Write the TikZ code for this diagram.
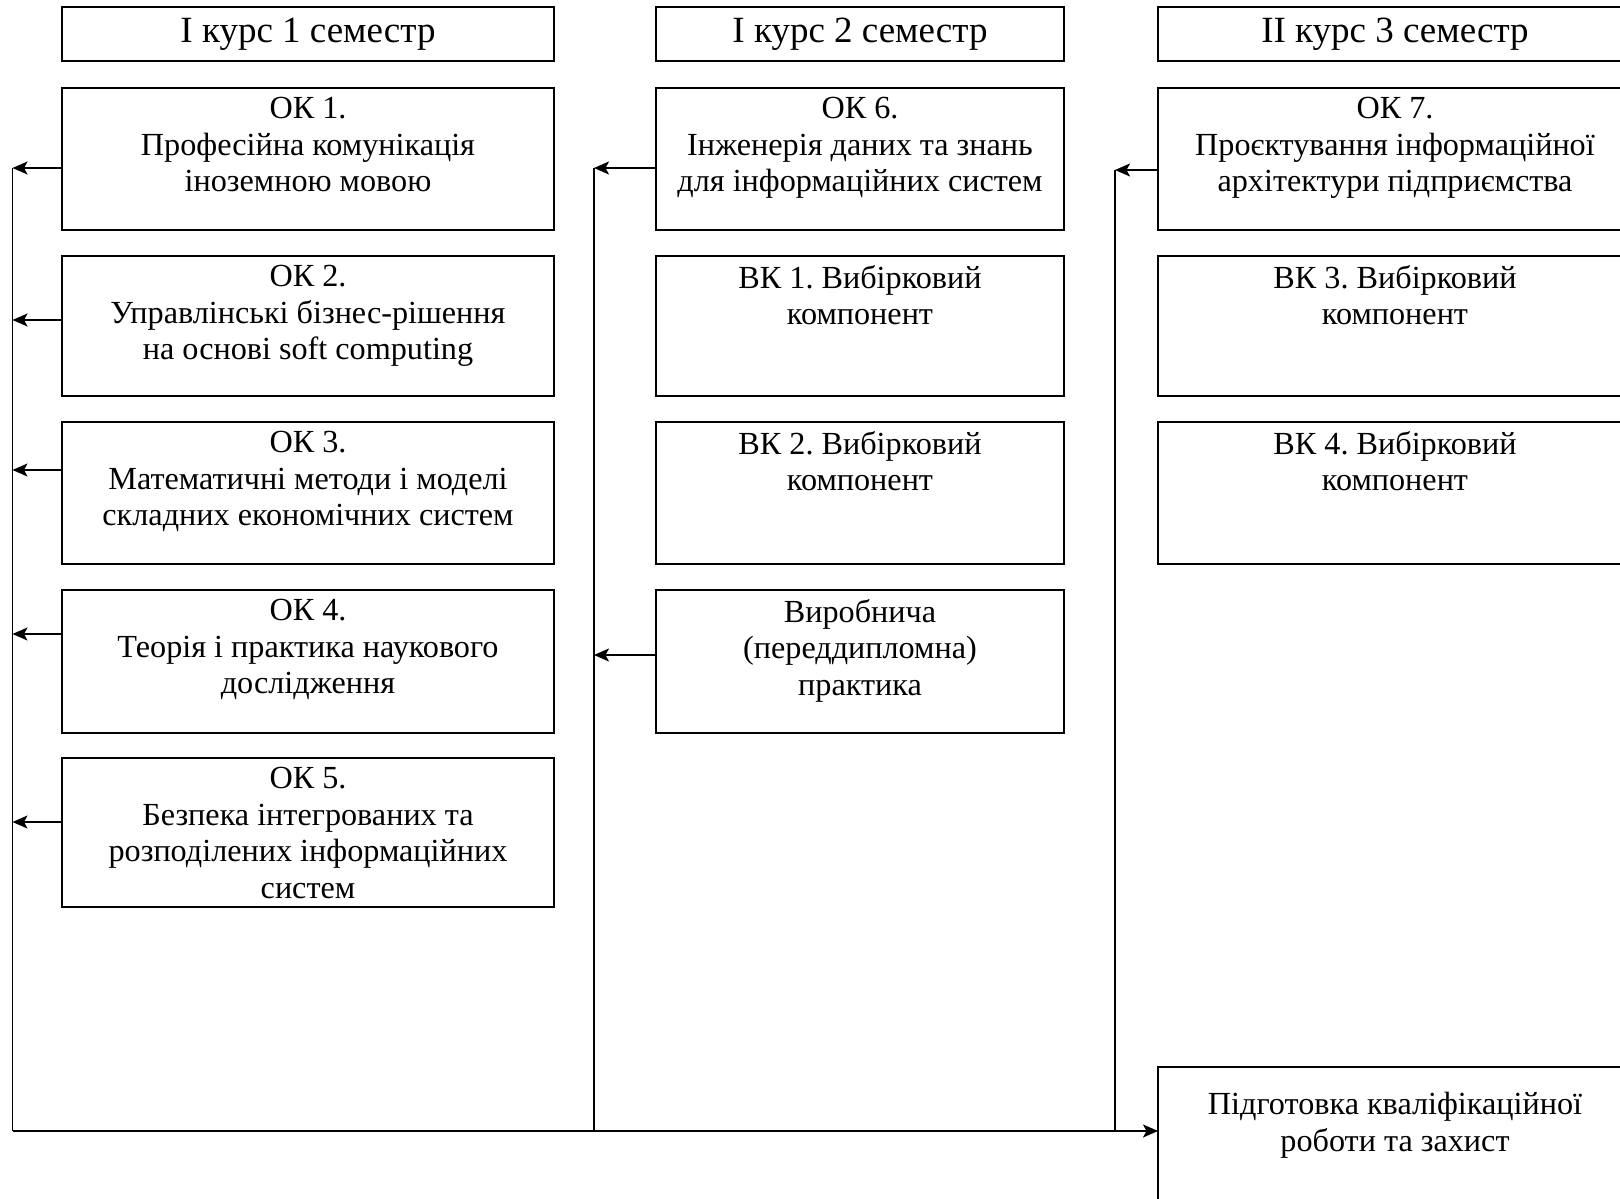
\documentclass[tikz,border=0pt]{standalone}
\usepackage{fontspec}
\setmainfont{Liberation Serif}
\usetikzlibrary{arrows.meta}
\frenchspacing
\begin{document}
\begin{tikzpicture}[x=1pt,y=-1pt,
  box/.style={draw, line width=1.9pt, inner sep=0pt, outer sep=0pt, anchor=north west},
  body/.style={font=\fontsize{32.2}{36.7}\selectfont, align=center, anchor=north, inner sep=0pt},
  head/.style={font=\fontsize{37}{42}\selectfont, anchor=base, inner sep=0pt},
  conn/.style={line width=1.7pt, -{Stealth[length=15pt,width=13pt,inset=3.5pt]}},
  bus/.style={line width=1.7pt}]
\clip (0,0) rectangle (1620,1199);
\fill[white] (0,0) rectangle (1620,1199);

% headers
\node[box, minimum width=492pt, minimum height=54pt] (h1) at (62,7) {};
\node[box, minimum width=408pt, minimum height=54pt] (h2) at (656,7) {};
\node[box, minimum width=474pt, minimum height=54pt] (h3) at (1158,7) {};
\node[head] (t-h1) at (308,43) {І курс 1 семестр};
\node[head] (t-h2) at (860,43) {І курс 2 семестр};
\node[head] (t-h3) at (1395,43) {ІІ курс 3 семестр};

% column 1
\node[box, minimum width=492pt, minimum height=142pt] (ok1) at (62,88) {};
\node[box, minimum width=492pt, minimum height=140pt] (ok2) at (62,256) {};
\node[box, minimum width=492pt, minimum height=142pt] (ok3) at (62,422) {};
\node[box, minimum width=492pt, minimum height=143pt] (ok4) at (62,590) {};
\node[box, minimum width=492pt, minimum height=149pt] (ok5) at (62,758) {};
\node[body] (t-ok1) at (308,97) {ОК 1.\\Професійна комунікація\\іноземною мовою};
\node[body] (t-ok2) at (308,265) {ОК 2.\\Управлінські бізнес-рішення\\на основі soft computing};
\node[body] (t-ok3) at (308,431) {ОК 3.\\Математичні методи і моделі\\складних економічних систем};
\node[body] (t-ok4) at (308,599) {ОК 4.\\Теорія і практика наукового\\дослідження};
\node[body] (t-ok5) at (308,767) {ОК 5.\\Безпека інтегрованих та\\розподілених інформаційних\\систем};

% column 2
\node[box, minimum width=408pt, minimum height=142pt] (ok6) at (656,88) {};
\node[box, minimum width=408pt, minimum height=140pt] (vk1) at (656,256) {};
\node[box, minimum width=408pt, minimum height=142pt] (vk2) at (656,422) {};
\node[box, minimum width=408pt, minimum height=143pt] (pr) at (656,590) {};
\node[body] (t-ok6) at (860,97) {ОК 6.\\Інженерія даних та знань\\для інформаційних систем};
\node[body] (t-vk1) at (860,265) {ВК 1. Вибірковий\\компонент};
\node[body] (t-vk2) at (860,431) {ВК 2. Вибірковий\\компонент};
\node[body] (t-pr) at (860,599) {Виробнича\\(переддипломна)\\практика};

% column 3
\node[box, minimum width=474pt, minimum height=142pt] (ok7) at (1158,88) {};
\node[box, minimum width=474pt, minimum height=140pt] (vk3) at (1158,256) {};
\node[box, minimum width=474pt, minimum height=142pt] (vk4) at (1158,422) {};
\node[box, minimum width=474pt, minimum height=200pt] (fin) at (1158,1067) {};
\node[body] (t-ok7) at (1395,97) {ОК 7.\\Проєктування інформаційної\\архітектури підприємства};
\node[body] (t-vk3) at (1395,265) {ВК 3. Вибірковий\\компонент};
\node[body] (t-vk4) at (1395,431) {ВК 4. Вибірковий\\компонент};
\node[body] (t-fin) at (1395,1092) {Підготовка кваліфікаційної\\роботи та захист};

% bus coordinates
\coordinate (L1) at (12.5,168);
\coordinate (L2) at (12.5,320);
\coordinate (L3) at (12.5,470);
\coordinate (L4) at (12.5,634);
\coordinate (L5) at (12.5,822);
\coordinate (Lb) at (12.5,1131);
\coordinate (M1) at (594,168);
\coordinate (M2) at (594,655);
\coordinate (Mb) at (594,1131);
\coordinate (R1) at (1115,170);
\coordinate (Rb) at (1115,1131);

% vertical bus lines
\draw[bus] (L1) -- (Lb);
\draw[bus] (M1) -- (Mb);
\draw[bus] (R1) -- (Rb);

% arrows from boxes
\draw[conn] (ok1.west |- L1) -- (L1);
\draw[conn] (ok2.west |- L2) -- (L2);
\draw[conn] (ok3.west |- L3) -- (L3);
\draw[conn] (ok4.west |- L4) -- (L4);
\draw[conn] (ok5.west |- L5) -- (L5);
\draw[conn] (ok6.west |- M1) -- (M1);
\draw[conn] (pr.west |- M2) -- (M2);
\draw[conn] (ok7.west |- R1) -- (R1);

% bottom line to final box
\draw[conn] (Lb) -- (fin.west |- Lb);
\end{tikzpicture}
\end{document}
